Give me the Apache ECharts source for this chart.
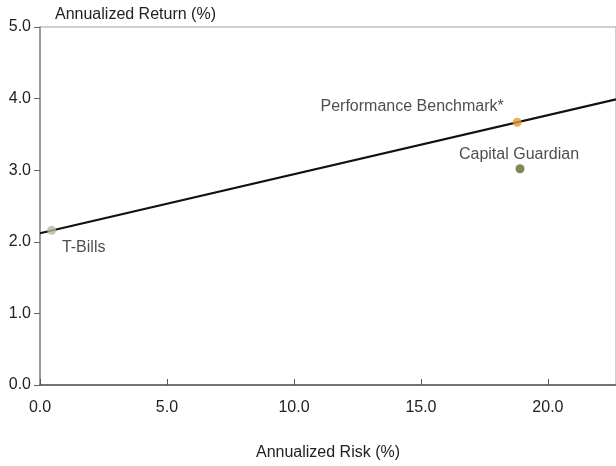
<!DOCTYPE html>
<html><head><meta charset="utf-8">
<script src="https://cdn.jsdelivr.net/npm/echarts@6/dist/echarts.min.js"></script>
<style>html,body{margin:0;padding:0;background:#fff}#c{width:616px;height:466px}</style>
</head><body><div id="c"></div>
<script>
const names = ['T-Bills', 'Performance Benchmark*', 'Capital Guardian'];
const risk = [0.46, 18.79, 18.9];
const ret = [2.16, 3.67, 3.02];
const colors = ['#b6b99c', '#e59a36', '#5e6b2c'];
const lineRisk = [0, 22.68];
const lineRet = [2.12, 3.99];
const xTicks = [0, 5, 10, 15, 20];
const yTicks = [0, 1, 2, 3, 4, 5];

const font = '"Liberation Sans",Arial,sans-serif';
const labelPos = [
  {position:'bottom', offset:[32,0]},
  {position:'left', offset:[-4,-16]},
  {position:'top', offset:[-1,3]}
];
const chart = echarts.init(document.getElementById('c'));
chart.setOption({
  animation:false,
  grid:{left:40, right:0, top:27, bottom:80, show:true, borderColor:'#a0a0a0', borderWidth:1},
  xAxis:{type:'value', min:0, max:22.68, interval:5,
    axisLine:{show:true, onZero:false, lineStyle:{color:'#555', width:1.5}},
    axisTick:{show:true, inside:true, length:6, lineStyle:{color:'#555'}},
    splitLine:{show:false},
    axisLabel:{color:'#222', fontFamily:font, fontSize:16, margin:15, showMaxLabel:false,
      formatter:v=>xTicks.includes(v)?v.toFixed(1):''},
    name:'Annualized Risk (%)', nameLocation:'middle', nameGap:60,
    nameTextStyle:{color:'#222', fontFamily:font, fontSize:16}
  },
  yAxis:{type:'value', min:0, max:5, interval:1,
    axisLine:{show:true, onZero:false, lineStyle:{color:'#888', width:1.5}},
    axisTick:{show:true, inside:false, length:6, lineStyle:{color:'#666'}},
    splitLine:{show:false},
    axisLabel:{color:'#222', fontFamily:font, fontSize:16, margin:9,
      formatter:v=>yTicks.includes(v)?v.toFixed(1):''},
    name:'Annualized Return (%)', nameLocation:'end', nameGap:4,
    nameTextStyle:{color:'#222', fontFamily:font, fontSize:16, align:'left', padding:[0,0,0,15]}
  },
  series:[
    {type:'line', data:lineRisk.map((x,i)=>[x,lineRet[i]]), symbol:'none',
      lineStyle:{color:'#111', width:2.2}, z:2, silent:true},
    {type:'scatter', symbolSize:9, z:3,
      data:names.map((n,i)=>({name:n, value:[risk[i],ret[i]], itemStyle:{color:colors[i]},
        label:Object.assign({show:true, formatter:n, color:'#222', fontFamily:font, fontSize:16}, labelPos[i])}))}
  ]
});
</script></body></html>
